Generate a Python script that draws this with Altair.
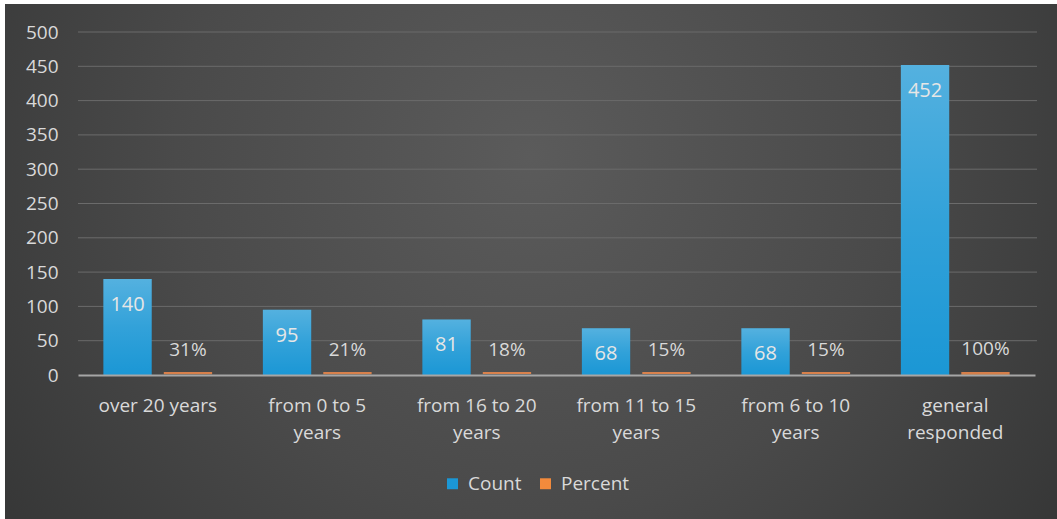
import altair as alt
import pandas as pd

categories = ["over 20 years", "from 0 to 5 years", "from 16 to 20 years",
              "from 11 to 15 years", "from 6 to 10 years", "general responded"]
count_values = [140, 95, 81, 68, 68, 452]
percent_values = [0.31, 0.21, 0.18, 0.15, 0.15, 1.00]
percent_labels = ["31%", "21%", "18%", "15%", "15%", "100%"]
series = ["Count", "Percent"]
y_ticks = [0, 50, 100, 150, 200, 250, 300, 350, 400, 450, 500]

rows = []
for c, v, p, pl in zip(categories, count_values, percent_values, percent_labels):
    rows.append({"category": c, "series": "Count", "value": v, "label": str(v)})
    rows.append({"category": c, "series": "Percent", "value": p, "label": pl})
df = pd.DataFrame(rows)
grid_df = pd.DataFrame({"value": y_ticks[1:]})

FONT = "Open Sans"
TXT = "#d9d9d9"
FS = 19
W, H = 957, 343
PL, PT = 78, 32

x_enc = alt.X("category:N", sort=categories, title=None,
              scale=alt.Scale(paddingInner=0, paddingOuter=0),
              axis=alt.Axis(labelAngle=0, ticks=False, domain=True, zindex=1,
                            domainColor="#a6a6a6", domainWidth=2,
                            labelColor=TXT, labelFont=FONT, labelFontSize=FS,
                            labelPadding=21, labelLineHeight=27,
                            labelBaseline="top",
                            labelExpr="datum.label == 'over 20 years' ? datum.label : "
                                      "[substring(datum.label, 0, lastindexof(datum.label, ' ')), "
                                      "substring(datum.label, lastindexof(datum.label, ' ') + 1)]"))
xo_enc = alt.XOffset("series:N", sort=series,
                     scale=alt.Scale(paddingInner=0.2, paddingOuter=0.42))
y_scale = alt.Scale(domain=[0, 500], nice=False)
y_axis = alt.Axis(values=y_ticks, ticks=False, domain=False, zindex=1,
                  grid=False,
                  labelColor=TXT, labelFont=FONT, labelFontSize=FS,
                  labelPadding=20)
y_enc = alt.Y("value:Q", title=None, scale=y_scale, axis=y_axis)

bg = alt.Chart(alt.Data(values=[{}])).mark_rect(
    fill=alt.RadialGradient(gradient="radial",
                            stops=[alt.GradientStop(color="#5b5b5b", offset=0),
                                   alt.GradientStop(color="#4a4a4a", offset=0.45),
                                   alt.GradientStop(color="#2c2d2d", offset=1)],
                            x1=0.5, y1=0.4, r1=0, x2=0.5, y2=0.4, r2=0.75)
).encode(x=alt.value(5 - PL), x2=alt.value(1057 - PL),
         y=alt.value(4 - PT), y2=alt.value(519 - PT))

grid = alt.Chart(grid_df).mark_rule(color="#6b6b6b", strokeWidth=1).encode(
    y=y_enc,
    x=alt.value(0), x2=alt.value(W + 2)
)

base = alt.Chart(df)

bars = base.mark_bar(stroke=None).encode(
    x=x_enc, xOffset=xo_enc, y=y_enc,
    color=alt.Color("series:N", sort=series,
                    scale=alt.Scale(domain=series, range=["#1b97d5", "#f28a3c"]),
                    legend=alt.Legend(title=None, orient="none", direction="horizontal",
                                      legendX=447 - PL - 4, legendY=474 - PT,
                                      symbolType="square", symbolSize=120,
                                      symbolStrokeWidth=0,
                                      labelColor=TXT, labelFont=FONT, labelFontSize=FS,
                                      columnPadding=14, labelOffset=6))
)

pct_line = base.transform_filter("datum.series == 'Percent'").mark_bar(
    color="#f08a4b", opacity=0.85
).encode(x=x_enc, xOffset=xo_enc, y=alt.value(H - 3), y2=alt.value(H - 1))

shine = base.transform_filter("datum.series == 'Count'").mark_bar(
    color=alt.LinearGradient(gradient="linear",
                             stops=[alt.GradientStop(color="rgba(255,255,255,0.25)", offset=0),
                                    alt.GradientStop(color="rgba(255,255,255,0.1)", offset=0.5),
                                    alt.GradientStop(color="rgba(255,255,255,0)", offset=1)],
                             x1=0, x2=0, y1=0, y2=1)
).encode(x=x_enc, xOffset=xo_enc, y=y_enc)

count_text = base.transform_filter("datum.series == 'Count'").mark_text(
    baseline="middle", dy=26, font=FONT, fontSize=20, color="#e6e6e6"
).encode(x=x_enc, xOffset=xo_enc, y=y_enc, text="label:N")

pct_text = base.transform_filter("datum.series == 'Percent'").mark_text(
    baseline="middle", dy=-25, font=FONT, fontSize=FS, color=TXT
).encode(x=x_enc, xOffset=xo_enc, y=y_enc, text="label:N")

chart = alt.layer(bg, grid, bars, shine, pct_line, count_text, pct_text).properties(
    width=W, height=H,
    autosize=alt.AutoSizeParams(type="none"),
    padding={"left": PL, "top": PT, "right": 1057 - PL - W, "bottom": 519 - PT - H},
    background="white"
).configure_view(stroke=None)

chart.save("out.html", embed_options={"renderer": "svg", "actions": False})
